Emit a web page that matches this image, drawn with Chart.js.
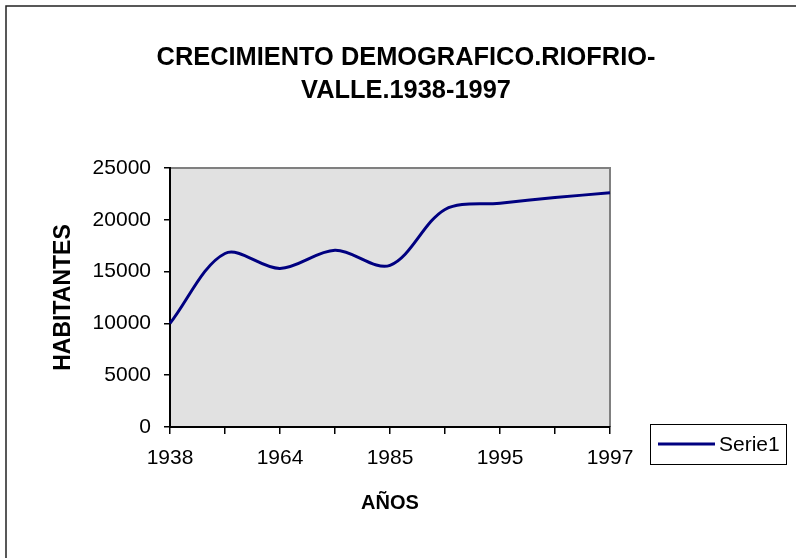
<!DOCTYPE html>
<html>
<head>
<meta charset="utf-8">
<script src="https://cdn.jsdelivr.net/npm/chart.js@4"></script>
<style>
  html, body { margin: 0; padding: 0; background: #fff; }
  #chart { display: block; }
</style>
</head>
<body>
<canvas id="chart" width="796" height="558"></canvas>
<script>
// Crecimiento demografico Riofrio (censos 1938-1997)
const years = ['1938', '1951', '1964', '1973', '1985', '1993', '1995', '1996', '1997'];
const habitantes = [10000, 16750, 15300, 17050, 15600, 21000, 21600, 22150, 22600];
const yTicks = [0, 5000, 10000, 15000, 20000, 25000];
const titleLines = ['CRECIMIENTO DEMOGRAFICO.RIOFRIO-', 'VALLE.1938-1997'];
const seriesName = 'Serie1';

const FONT = "'Liberation Sans', Arial, sans-serif";
const colors = {
    line: '#000080',
    plotBg: '#e1e1e1',
    plotEdge: '#808080',
    axis: '#000000',
    text: '#000000'
};

// Plot background, outer frame, grey top/right plot edges
const backdrop = {
    id: 'backdrop',
    beforeDraw(chart) {
        const { ctx, chartArea: a } = chart;
        ctx.save();
        ctx.fillStyle = colors.plotBg;
        ctx.fillRect(a.left, a.top, a.right - a.left, a.bottom - a.top);
        ctx.strokeStyle = colors.plotEdge;
        ctx.lineWidth = 2;
        ctx.beginPath();
        ctx.moveTo(a.left, a.top);
        ctx.lineTo(a.right, a.top);
        ctx.lineTo(a.right, a.bottom);
        ctx.stroke();
        // outer chart frame (only left/top visible in the original)
        ctx.strokeStyle = '#222';
        ctx.lineWidth = 1.5;
        ctx.beginPath();
        ctx.moveTo(6, chart.height + 2);
        ctx.lineTo(6, 6);
        ctx.lineTo(chart.width + 2, 6);
        ctx.stroke();
        ctx.restore();
    }
};

// Two-line title + boxed legend, placed like the Excel original
const decorations = {
    id: 'decorations',
    afterDraw(chart) {
        const { ctx } = chart;
        ctx.save();
        ctx.fillStyle = colors.text;
        ctx.textAlign = 'center';
        ctx.textBaseline = 'middle';
        ctx.font = `bold 25.4px ${FONT}`;
        titleLines.forEach((t, i) => ctx.fillText(t, 406, 58 + i * 33));

        // legend
        ctx.strokeStyle = '#000';
        ctx.lineWidth = 1;
        ctx.strokeRect(650.5, 424.5, 136, 40);
        ctx.strokeStyle = chart.data.datasets[0].borderColor;
        ctx.lineWidth = 3;
        ctx.beginPath();
        ctx.moveTo(658, 444);
        ctx.lineTo(715, 444);
        ctx.stroke();
        ctx.textAlign = 'left';
        ctx.font = `21px ${FONT}`;
        ctx.fillText(chart.data.datasets[0].label, 719, 445);
        ctx.restore();
    }
};

new Chart(document.getElementById('chart'), {
    type: 'line',
    data: {
        labels: years,
        datasets: [{
            label: seriesName,
            data: habitantes,
            borderColor: colors.line,
            borderWidth: 3,
            pointRadius: 0,
            tension: 0.33,
            fill: false
        }]
    },
    options: {
        responsive: false,
        animation: false,
        layout: { padding: { left: 40, right: 186, top: 168, bottom: 30 } },
        plugins: {
            legend: { display: false },
            title: { display: false },
            tooltip: { enabled: false }
        },
        scales: {
            x: {
                offset: false,
                afterFit: (s) => { s.height = 101; },
                grid: { display: true, drawOnChartArea: false, offset: false, tickLength: 7, color: colors.axis, lineWidth: 1.5 },
                border: { display: true, color: colors.axis, width: 2 },
                ticks: {
                    autoSkip: false,
                    maxRotation: 0,
                    padding: 12,
                    color: colors.text,
                    font: { family: FONT, size: 21 },
                    callback: (v, i) => (i % 2 === 0 ? years[i] : '')
                },
                title: {
                    display: true,
                    text: 'AÑOS',
                    color: colors.text,
                    font: { family: FONT, size: 20, weight: 'bold' },
                    padding: { top: 0, bottom: 13 }
                }
            },
            y: {
                min: 0,
                max: 25000,
                afterFit: (s) => { s.width = 130; },
                afterBuildTicks: (s) => { s.ticks = yTicks.map(v => ({ value: v })); },
                grid: { display: true, drawOnChartArea: false, tickLength: 6, color: colors.axis, lineWidth: 1.5 },
                border: { display: true, color: colors.axis, width: 2 },
                ticks: {
                    padding: 13,
                    color: colors.text,
                    font: { family: FONT, size: 21 },
                    callback: (v) => String(v)
                },
                title: {
                    display: true,
                    text: 'HABITANTES',
                    color: colors.text,
                    font: { family: FONT, size: 23, weight: 'bold' },
                    padding: { top: 10, bottom: 0 }
                }
            }
        }
    },
    plugins: [backdrop, decorations]
});
</script>
</body>
</html>
